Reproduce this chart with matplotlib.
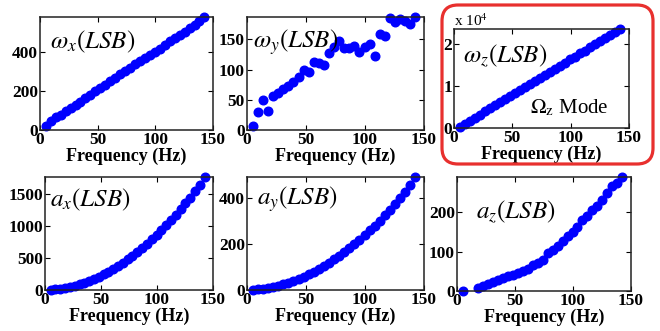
import numpy as np
import matplotlib
matplotlib.use('Agg')
import matplotlib.pyplot as plt
from matplotlib.patches import FancyBboxPatch
from matplotlib.transforms import IdentityTransform
from matplotlib.ticker import FuncFormatter

plt.rcParams['font.family'] = 'Liberation Serif'
plt.rcParams['mathtext.fontset'] = 'stix'

freq = [5, 9.3, 13.6, 17.9, 22.2, 26.5, 30.8, 35.1, 39.4, 43.7, 48, 52.3, 56.6,
        60.9, 65.2, 69.5, 73.8, 78.1, 82.4, 86.7, 91, 95.3, 99.6, 103.9, 108.2,
        112.5, 116.8, 121.1, 125.4, 129.7, 134, 138.3, 142.6]

wx = [22, 48, 68, 76, 96, 113, 130, 146, 165, 182, 198, 215, 232, 250, 268, 285,
      303, 320, 337, 352, 368, 385, 400, 418, 436, 455, 473, 490, 505, 522, 540,
      558, 580]
wy = [6, 30, 49, 31, 57, 62, 67, 72, 80, 87, 100, 96, 113, 111, 107, 127, 138,
      148, 136, 135, 139, 129, 138, 143, 122, 159, 155, 186, 178, 183, 180, 176, 187]
wz = [300, 1050, 1750, 2500, 3200, 3950, 4700, 5400, 6150, 6900, 7600, 8350,
      9050, 9800, 10550, 11250, 12000, 12700, 13450, 14200, 14900, 15650, 16400,
      17100, 17850, 18550, 19300, 20050, 20750, 21500, 22250, 22950, 23700]
ax_ = [4, 11, 21, 34, 50, 69, 91, 116, 145, 176, 210, 248, 288, 332, 379, 429,
       482, 537, 597, 659, 724, 792, 863, 938, 1015, 1095, 1179, 1266, 1355, 1448,
       1544, 1650, 1770]
ay = [1, 3, 6, 9, 14, 19, 25, 32, 40, 48, 58, 68, 79, 91, 104, 118, 133, 148,
      164, 181, 199, 218, 237, 258, 279, 301, 324, 348, 373, 398, 425, 455, 490]
az = [1, np.nan, np.nan, 7, 12, 17, 22, 27, 32, 37, 41, 45, 50, 57, 65, 72, 80,
      96, 105, 115, 128, 140, 150, 164, 180, 192, 206, 216, 232, 250, 266, 275, 290]

panels = [
    ([0.0606, 0.6073, 0.2621, 0.3414], wx, r'$\omega_x(LSB)$', (0.058, 0.726), [0, 200, 400]),
    ([0.3742, 0.6073, 0.2682, 0.3414], wy, r'$\omega_y(LSB)$', (0.034, 0.726), [0, 50, 100, 150]),
    ([0.6879, 0.6133, 0.2652, 0.2991], wz, r'$\omega_z(LSB)$', (0.05, 0.667), [0, 10000, 20000]),
    ([0.0682, 0.1239, 0.2545, 0.3414], ax_, r'$a_x(LSB)$', (0.03, 0.737), [0, 500, 1000, 1500]),
    ([0.3742, 0.1239, 0.2682, 0.3414], ay, r'$a_y(LSB)$', (0.055, 0.758), [0, 200, 400]),
    ([0.6924, 0.1208, 0.2636, 0.3444], az, r'$a_z(LSB)$', (0.109, 0.638), [0, 100, 200]),
]

fig = plt.figure(figsize=(6.6, 3.31), dpi=100)

for i, (rect, vals, title, tpos, yticks) in enumerate(panels):
    ax = fig.add_axes(rect)
    ax.plot(freq, vals, 'o', color=(0, 0, 1), markersize=6.2, clip_on=False)
    ax.set_xlim(0, 150)
    ax.set_ylim(0, np.nanmax(vals))
    ax.set_xticks([0, 50, 100, 150])
    ax.set_yticks(yticks)
    ax.tick_params(direction='in', top=True, right=True, length=3.5, width=0.8,
                   pad=1.5, labelsize=12.5)
    for lab in ax.get_xticklabels() + ax.get_yticklabels():
        lab.set_fontweight('bold')
    for s in ax.spines.values():
        s.set_linewidth(1.1)
        s.set_color('#222222')
    ax.set_xlabel('Frequency (Hz)', fontsize=13, fontweight='bold', labelpad=-0.5)
    ax.text(tpos[0], tpos[1], title, transform=ax.transAxes, fontsize=18,
            va='baseline', ha='left')
    if i == 2:
        ax.yaxis.set_major_formatter(FuncFormatter(lambda v, p: f'{v / 1e4:g}'))
        ax.text(0.0, 1.0, r'x 10$^4$', transform=ax.transAxes, fontsize=11,
                va='bottom', ha='left')
        ax.text(0.434, 0.15, r'$\Omega_{\mathrm{z}}$ Mode', transform=ax.transAxes,
                fontsize=15, va='baseline', ha='left')

box = FancyBboxPatch((442, 167), 211, 159, boxstyle='round,pad=0,rounding_size=16',
                     transform=IdentityTransform(), fill=False,
                     edgecolor='#e8302e', linewidth=2.3)
fig.patches.append(box)

fig.savefig('out.png', dpi=100)
